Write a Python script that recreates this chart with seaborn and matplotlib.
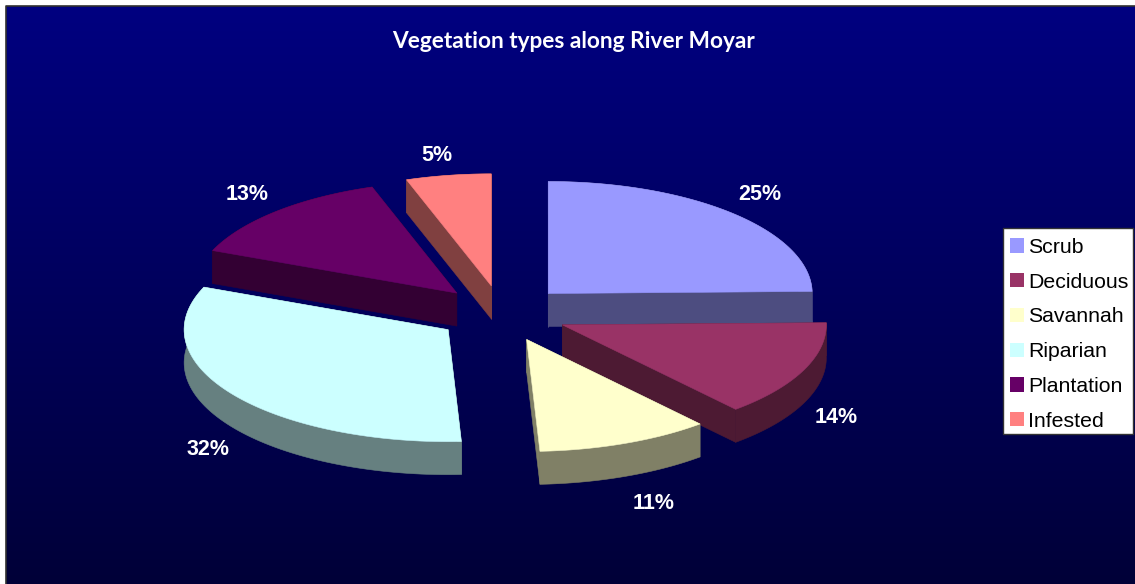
import numpy as np
import seaborn as sns
import matplotlib.pyplot as plt
from matplotlib.patches import Patch, Polygon, Rectangle

# data
categories = ["Scrub", "Deciduous", "Savannah", "Riparian", "Plantation", "Infested"]
shares = [24.7, 13.9, 10.6, 32.0, 13.6, 5.2]
labels = ["25%", "14%", "11%", "32%", "13%", "5%"]
title = "Vegetation types along River Moyar"
hex_colors = ["#9999FF", "#993366", "#FFFFCC", "#CCFFFF", "#660066", "#FF8080"]

# layout in pixels
cx, cy = 502, 313.5
rx, ry = 264, 112
depth = 33
explode = 66
label_nudge = [(-1, -7), (-4, 7), (13, 12), (8, 12), (-2, -5), (-5, -3)]

sns.set_theme(style="white")
plt.rcParams["font.family"] = ["Liberation Sans"]
palette = sns.color_palette(hex_colors)

fig = plt.figure(figsize=(11.35, 5.84), dpi=100, facecolor="white")
ax = fig.add_axes([0, 0, 1, 1])
ax.set_xlim(0, 1135)
ax.set_ylim(584, 0)
ax.axis("off")

# background gradient, navy to dark
grad = np.zeros((256, 1, 3))
grad[:, 0, 2] = np.linspace(128, 56, 256) / 255
ax.imshow(grad, extent=(6, 1135, 584, 6), aspect="auto", zorder=0)
ax.plot([6, 6, 1135], [584, 6, 6], color="#303030", lw=1.2, zorder=1)

# slices, back to front by apex height
fractions = np.array(shares) / sum(shares)
edges = np.concatenate([[0], np.cumsum(fractions)]) * 2 * np.pi
slices = []
for i in range(len(shares)):
    t0, t1 = edges[i], edges[i + 1]
    mid = (t0 + t1) / 2
    ax0 = cx + explode * np.sin(mid)
    ay0 = cy - explode * ry / rx * np.cos(mid)
    slices.append((ay0, ax0, t0, t1, mid, i))
slices.sort(key=lambda s: s[0])

for order, (ay0, ax0, t0, t1, mid, i) in enumerate(slices):
    color = palette[i]
    shade = tuple(c * 0.5 for c in color)
    t = np.linspace(t0, t1, 80)
    arc_x = ax0 + rx * np.sin(t)
    arc_y = ay0 - ry * np.cos(t)
    z = 10 + order

    # radial walls then the rim, then the top face
    for k in (0, -1):
        wall = [(ax0, ay0), (arc_x[k], arc_y[k]), (arc_x[k], arc_y[k] + depth), (ax0, ay0 + depth)]
        ax.add_patch(Polygon(wall, closed=True, fc=shade, ec=shade, lw=0.4, zorder=z))
    rim = np.r_[np.c_[arc_x, arc_y], np.c_[arc_x, arc_y + depth][::-1]]
    ax.add_patch(Polygon(rim, closed=True, fc=shade, ec=shade, lw=0.4, zorder=z))
    top = np.r_[[[ax0, ay0]], np.c_[arc_x, arc_y]]
    ax.add_patch(Polygon(top, closed=True, fc=color, ec=color, lw=0.4, zorder=z + 0.5))

    # percent label
    lx = ax0 + 1.15 * rx * np.sin(mid) + label_nudge[i][0]
    ly = ay0 - 1.15 * ry * np.cos(mid) + label_nudge[i][1]
    if np.cos(mid) < 0:
        ly += depth
    ax.text(lx, ly, labels[i], color="white", fontsize=15.5, fontweight="bold",
            ha="center", va="center", zorder=30)

# no narrow bold installed, Lato bold is the closest width
ax.text(573, 41, title, color="white", fontsize=16.3, fontweight="bold", family="Lato",
        ha="center", va="center", zorder=30)

# legend, frame drawn apart so the rows can sit a bit low in it
ax.add_patch(Rectangle((1002.5, 227.5), 130.5, 206.5, fc="white", ec="#333333", lw=1, zorder=39))
handles = [Patch(facecolor=c, edgecolor="none", label=n) for c, n in zip(palette, categories)]
leg = ax.legend(handles=handles, loc="upper left", bbox_to_anchor=(1004, 232),
                bbox_transform=ax.transData, borderaxespad=0, fontsize=15.3, frameon=False,
                handlelength=0.66, handleheight=0.66, handletextpad=0.2,
                borderpad=0.28, labelspacing=0.74)
leg.set_zorder(40)
for txt in leg.get_texts():
    txt.set_color("black")

plt.savefig("out.png", dpi=100)
